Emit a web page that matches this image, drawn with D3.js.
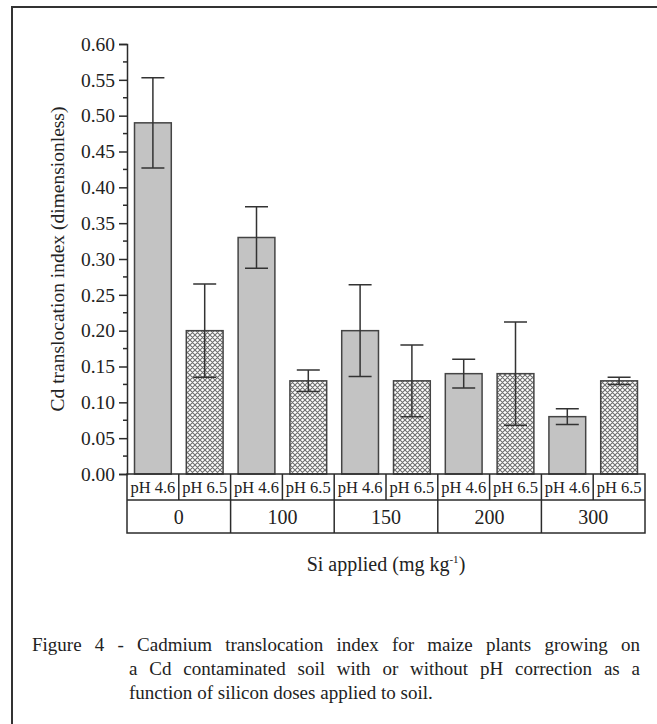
<!DOCTYPE html>
<html>
<head>
<meta charset="utf-8">
<script src="https://cdn.jsdelivr.net/npm/d3@7"></script>
<style>
  body { margin: 0; background: #fff; }
  svg { display: block; font-family: "Liberation Serif", "Times New Roman", serif; }
</style>
</head>
<body>
<svg id="chart" width="657" height="724"></svg>
<script>
// data
const doses = ["0", "100", "150", "200", "300"];
const phLevels = ["pH 4.6", "pH 6.5"];
const valuesPh46 = [0.49, 0.33, 0.20, 0.14, 0.08];
const valuesPh65 = [0.20, 0.13, 0.13, 0.14, 0.13];
const errPh46 = [0.063, 0.043, 0.064, 0.020, 0.011];
const errPh65 = [0.065, 0.015, 0.050, 0.072, 0.005];
const yTicks = [0, 0.05, 0.1, 0.15, 0.2, 0.25, 0.3, 0.35, 0.4, 0.45, 0.5, 0.55, 0.6];
const captionLines = [
  "Figure 4 - Cadmium translocation index for maize plants growing on",
  "a Cd contaminated soil with or without pH correction as a",
  "function of silicon doses applied to soil."
];

const ink = "#2b2b2b";
const plotLeft = 127, plotRight = 645, plotTop = 44, plotBottom = 474;
const row1 = 26, row2 = 33;

const svg = d3.select("#chart");

// rows for drawing
let bars = [];
doses.forEach(function (d, i) {
  bars.push({dose: d, ph: phLevels[0], v: valuesPh46[i], e: errPh46[i]});
  bars.push({dose: d, ph: phLevels[1], v: valuesPh65[i], e: errPh65[i]});
});

const x = d3.scaleBand().domain(doses).range([plotLeft, plotRight]);
const xSub = d3.scaleBand().domain(phLevels).range([0, x.bandwidth()]);
const y = d3.scaleLinear().domain([0, 0.6]).range([plotBottom, plotTop]);
const barW = xSub.bandwidth() * 0.71;

// hatch pattern
const defs = svg.append("defs");
const pat = defs.append("pattern")
  .attr("id", "hatch")
  .attr("patternUnits", "userSpaceOnUse")
  .attr("width", 5).attr("height", 5);
pat.append("rect").attr("width", 5).attr("height", 5).attr("fill", "#fff");
pat.append("path")
  .attr("d", "M0,0L5,5M5,0L0,5M-1,4L1,6M4,-1L6,1M-1,1L1,-1M4,6L6,4")
  .attr("stroke", "#6f6f6f")
  .attr("stroke-width", 1.1);

// outer frame (only top and left show in the crop)
svg.append("path")
  .attr("d", "M12,724V7H657")
  .attr("fill", "none")
  .attr("stroke", "#333")
  .attr("stroke-width", 2);

// bars
svg.append("g").selectAll("rect")
  .data(bars)
  .join("rect")
    .attr("x", d => x(d.dose) + xSub(d.ph) + (xSub.bandwidth() - barW) / 2)
    .attr("y", d => y(d.v))
    .attr("width", barW)
    .attr("height", d => y(0) - y(d.v))
    .attr("fill", d => d.ph == phLevels[0] ? "#c3c3c3" : "url(#hatch)")
    .attr("stroke", "#444")
    .attr("stroke-width", 1.5);

// error bars
const cap = 11.5;
const errG = svg.append("g").attr("stroke", "#333").attr("stroke-width", 1.5);
errG.selectAll("path")
  .data(bars)
  .join("path")
    .attr("fill", "none")
    .attr("d", function (d) {
      let cx = x(d.dose) + xSub(d.ph) + xSub.bandwidth() / 2;
      let hi = y(d.v + d.e), lo = y(d.v - d.e);
      return "M" + (cx - cap) + "," + hi + "H" + (cx + cap) +
        "M" + cx + "," + hi + "V" + lo +
        "M" + (cx - cap) + "," + lo + "H" + (cx + cap);
    });

// y axis
const yAxis = svg.append("g")
  .attr("transform", "translate(" + plotLeft + ",0)")
  .call(d3.axisLeft(y).tickValues(yTicks).tickSize(8).tickPadding(4).tickFormat(d3.format(".2f")));
yAxis.select(".domain").attr("stroke", ink).attr("stroke-width", 1.5);
yAxis.selectAll(".tick line").attr("stroke", ink).attr("stroke-width", 1.5);
yAxis.selectAll(".tick text")
  .attr("font-size", 19.5)
  .attr("font-family", "Liberation Serif, serif")
  .attr("fill", "#222");

// minor ticks
const minor = yTicks.slice(0, -1).map(t => t + 0.025);
svg.append("g").selectAll("line")
  .data(minor)
  .join("line")
    .attr("x1", plotLeft - 4).attr("x2", plotLeft)
    .attr("y1", d => y(d)).attr("y2", d => y(d))
    .attr("stroke", ink).attr("stroke-width", 1.5);

// y title
svg.append("text")
  .attr("transform", "translate(64," + (plotTop + plotBottom) / 2 + ") rotate(-90)")
  .attr("text-anchor", "middle")
  .attr("font-size", 19.5)
  .attr("fill", "#222")
  .text("Cd translocation index (dimensionless)");

// category table under the bars
const table = svg.append("g").attr("stroke", ink).attr("stroke-width", 1.5).attr("fill", "none");
table.append("rect")
  .attr("x", plotLeft).attr("y", plotBottom)
  .attr("width", plotRight - plotLeft).attr("height", row1 + row2);
table.append("line")
  .attr("x1", plotLeft).attr("x2", plotRight)
  .attr("y1", plotBottom + row1).attr("y2", plotBottom + row1);
table.selectAll(".sub")
  .data(bars.slice(1))
  .join("line")
    .attr("x1", d => x(d.dose) + xSub(d.ph)).attr("x2", d => x(d.dose) + xSub(d.ph))
    .attr("y1", plotBottom).attr("y2", plotBottom + row1);
table.selectAll(".grp")
  .data(doses.slice(1))
  .join("line")
    .attr("x1", d => x(d)).attr("x2", d => x(d))
    .attr("y1", plotBottom + row1).attr("y2", plotBottom + row1 + row2);

svg.append("g").selectAll("text")
  .data(bars)
  .join("text")
    .attr("x", d => x(d.dose) + xSub(d.ph) + xSub.bandwidth() / 2)
    .attr("y", plotBottom + row1 / 2)
    .attr("dy", "0.35em")
    .attr("text-anchor", "middle")
    .attr("font-size", 16.5)
    .attr("fill", "#222")
    .text(d => d.ph);

svg.append("g").selectAll("text")
  .data(doses)
  .join("text")
    .attr("x", d => x(d) + x.bandwidth() / 2)
    .attr("y", plotBottom + row1 + row2 / 2)
    .attr("dy", "0.35em")
    .attr("text-anchor", "middle")
    .attr("font-size", 20)
    .attr("fill", "#222")
    .text(d => d);

// x title
const xt = svg.append("text")
  .attr("x", (plotLeft + plotRight) / 2)
  .attr("y", 571)
  .attr("text-anchor", "middle")
  .attr("font-size", 20)
  .attr("fill", "#222");
xt.append("tspan").text("Si applied (mg kg");
xt.append("tspan").attr("dy", -8).attr("font-size", 11).text("-1");
xt.append("tspan").attr("dy", 8).text(")");

// caption, justified like the printed page
const capG = svg.append("g").attr("font-size", 19).attr("fill", "#222");
const capStarts = [32, 129, 129];
const capRight = 640;
captionLines.forEach(function (line, li) {
  let words = line.split(" ");
  let yy = 651 + li * 24;
  let nodes = words.map(w => capG.append("text").attr("y", yy).text(w));
  let widths = nodes.map(n => n.node().getComputedTextLength());
  let total = d3.sum(widths);
  let gap = li < captionLines.length - 1 ? (capRight - capStarts[li] - total) / (words.length - 1) : 4.8;
  let cx = capStarts[li];
  nodes.forEach(function (n, i) {
    n.attr("x", cx);
    cx += widths[i] + gap;
  });
});
</script>
</body>
</html>
